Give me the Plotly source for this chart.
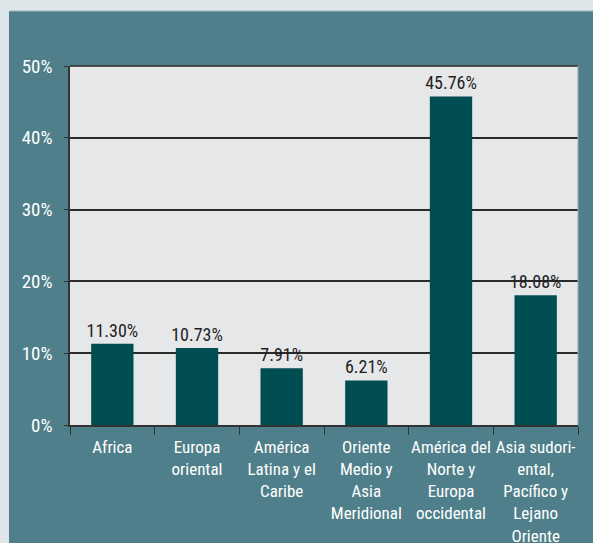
import plotly.graph_objects as go

categories = ["Africa", "Europa<br>oriental", "América<br>Latina y el<br>Caribe",
              "Oriente<br>Medio y<br>Asia<br>Meridional",
              "América del<br>Norte y<br>Europa<br>occidental",
              "Asia sudori-<br>ental,<br>Pacífico y<br>Lejano<br>Oriente"]
values = [11.30, 10.73, 7.91, 6.21, 45.76, 18.08]
labels = [f"{v:.2f}%" for v in values]
y_ticks = [0, 10, 20, 30, 40, 50]
y_ticklabels = [f"{t}%" for t in y_ticks]

FONT = "Roboto Condensed, DejaVu Sans Condensed, sans-serif"
W, H = 593, 543
L, R, T, B = 70, 15, 66, 118
pw, ph = W - L - R, H - T - B

def px_x(p):
    return (p - L) / pw

def px_y(p):
    return 1 - (p - T) / ph

fig = go.Figure()
fig.add_trace(go.Bar(
    x=categories, y=values, text=labels, textposition="outside",
    textfont=dict(family=FONT, size=18, color="#1e1e1e"),
    marker=dict(color="#004d52", line=dict(width=0)),
    cliponaxis=False, constraintext="none", hoverinfo="skip",
))

panel_outer = "#dfe6ea"
fig.update_layout(
    width=W, height=H,
    margin=dict(l=L, r=R, t=T, b=B, pad=0, autoexpand=False),
    paper_bgcolor="#4f7f8a",
    plot_bgcolor="#e6e7e9",
    bargap=0.5,
    showlegend=False,
    font=dict(family=FONT, color="white", size=17),
    shapes=[
        dict(type="rect", xref="paper", yref="paper", layer="below",
             x0=px_x(0), x1=px_x(W), y0=px_y(0), y1=px_y(11),
             fillcolor=panel_outer, line=dict(width=0)),
        dict(type="rect", xref="paper", yref="paper", layer="below",
             x0=px_x(0), x1=px_x(9), y0=px_y(H), y1=px_y(0),
             fillcolor=panel_outer, line=dict(width=0)),
        dict(type="line", xref="paper", yref="paper", layer="below",
             x0=px_x(9), x1=px_x(W), y0=px_y(11), y1=px_y(11),
             line=dict(color="#9fb3ba", width=1)),
    ],
    xaxis=dict(
        tickson="boundaries", ticks="outside", ticklen=8, tickcolor="#333333",
        ticklabelstandoff=6,
        showline=True, linecolor="#333333", linewidth=1.5,
        tickfont=dict(family=FONT, size=17, color="white"),
        tickangle=0, automargin=False,
        showgrid=False,
    ),
    yaxis=dict(
        range=[0, 50], tickvals=y_ticks, ticktext=y_ticklabels,
        ticks="outside", ticklen=4, tickcolor="#333333",
        ticklabelstandoff=8,
        showline=True, linecolor="#333333", linewidth=1.5,
        showgrid=True, gridcolor="#2a2a2a", gridwidth=1.5,
        tickfont=dict(family=FONT, size=19, color="white"),
        zeroline=False, automargin=False,
    ),
)
fig.add_shape(type="line", xref="paper", yref="paper", x0=0, x1=1, y0=1, y1=1,
              line=dict(color="#2a2a2a", width=1.5))
fig.add_shape(type="line", xref="paper", yref="paper", x0=1, x1=1, y0=0, y1=1,
              line=dict(color="#9aa5aa", width=1))

fig.write_html("out.html",
               config={"displayModeBar": False},
               post_script="document.body.style.margin='0';"
                           "document.body.style.background='#dfe6ea';")
